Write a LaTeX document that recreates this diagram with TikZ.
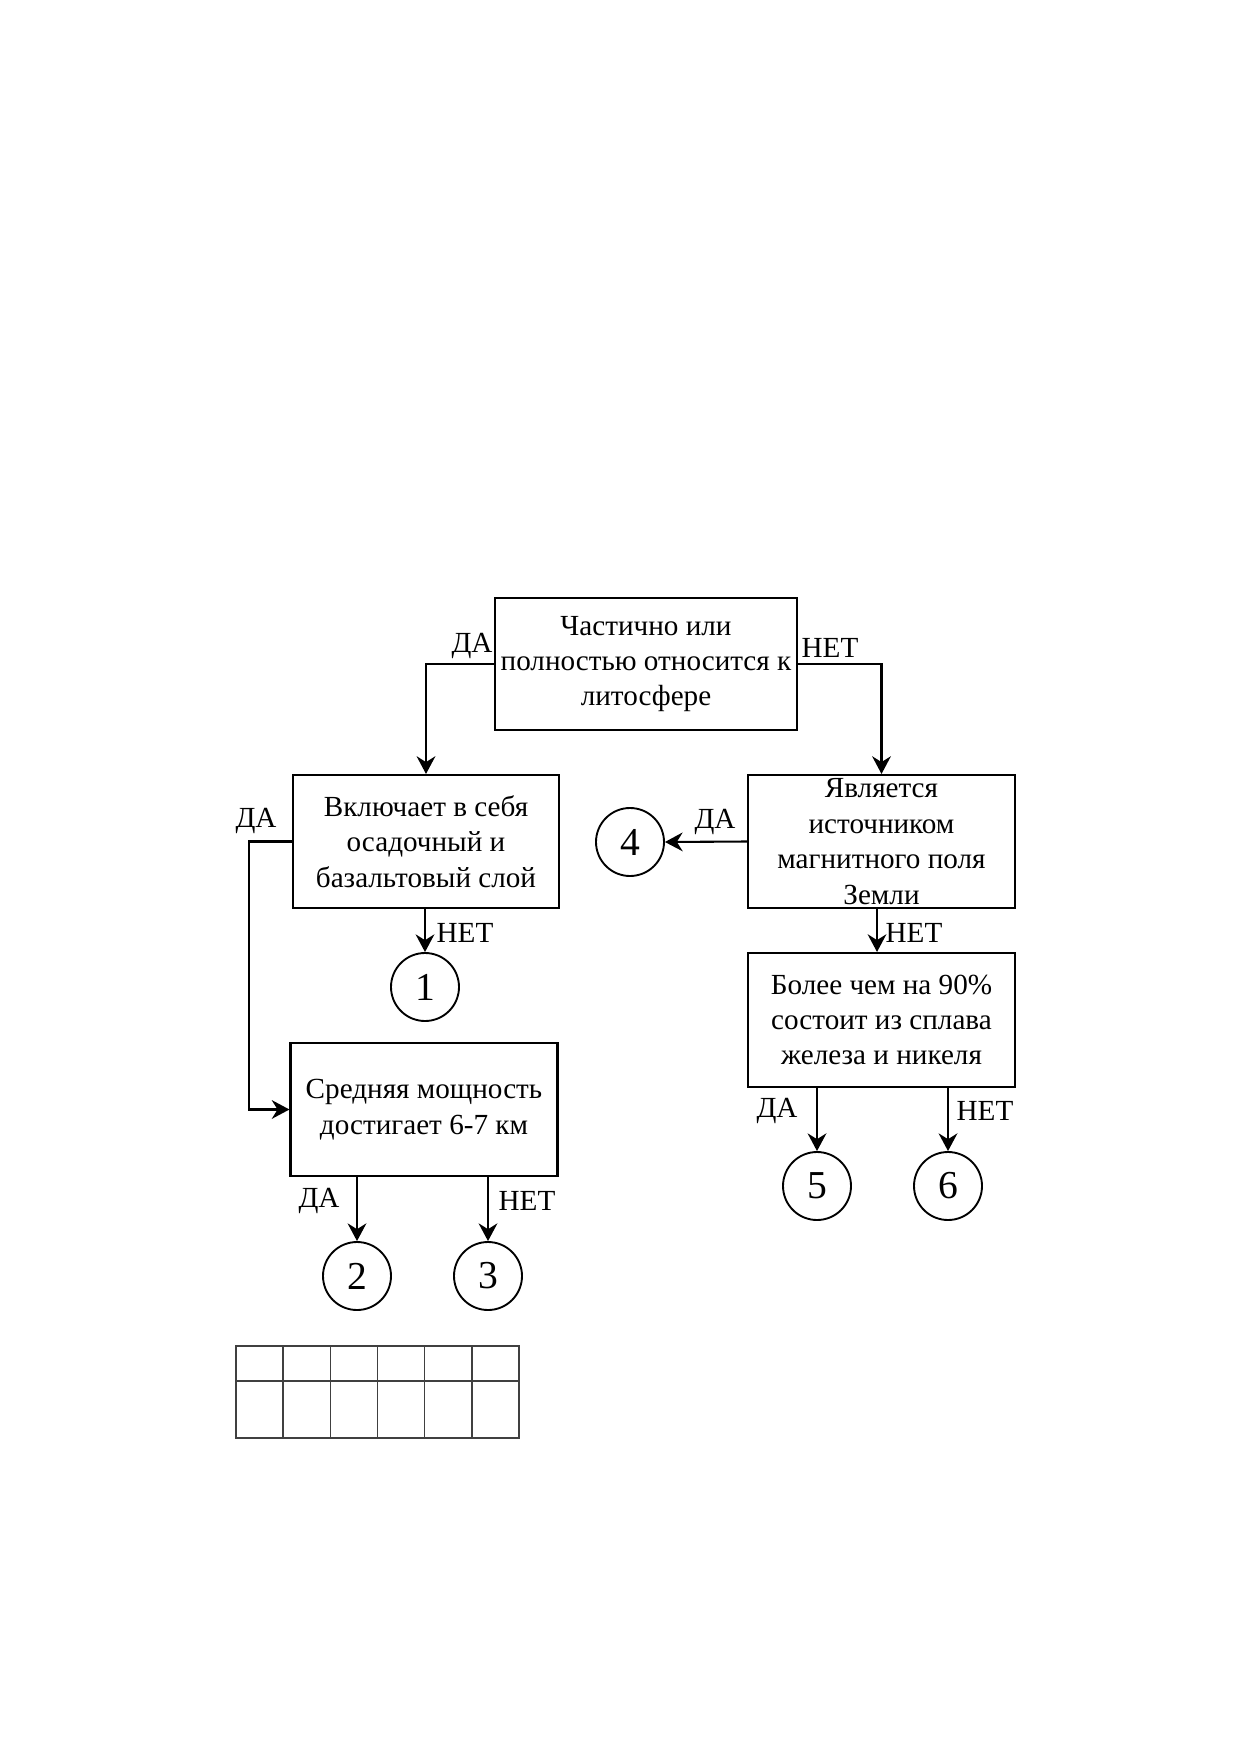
\documentclass[tikz,border=0pt]{standalone}
\usepackage{fontspec}
\setmainfont{Liberation Serif}
\usetikzlibrary{arrows.meta}
\def\px{0.48006pt}
\tikzset{
  box/.style={draw, line width=1pt, rectangle, inner sep=0pt, align=center,
    font=\fontsize{14}{17}\selectfont},
  circ/.style={draw, line width=0.9pt, circle, inner sep=0pt, minimum size=68*\px,
    font=\fontsize{19}{19}\selectfont},
  arr/.style={line width=1pt, -{Stealth[length=8.5pt, width=9pt, inset=2.8pt]}},
  lbl/.style={inner sep=0pt, font=\fontsize{14}{16}\selectfont},
  grid/.style={draw=black!75, line width=0.75pt}
}
\begin{document}
\begin{tikzpicture}[x=\px, y=-\px]
\useasboundingbox (0,0) rectangle (1240,1754);
\fill[white] (0,0) rectangle (1240,1754);

% boxes
\node[box, minimum width=302*\px, minimum height=132*\px] (A) at (646,664)
  {Частично или\\полностью относится к\\литосфере};
\node[box, minimum width=266*\px, minimum height=133*\px] (B) at (426,841.5)
  {Включает в себя\\осадочный и\\базальтовый слой};
\node[box, minimum width=267*\px, minimum height=133*\px] (C) at (424,1109.5)
  {Средняя мощность\\достигает 6-7 км};
\node[box, minimum width=267*\px, minimum height=133*\px] (D) at (881.5,841.5)
  {Является\\источником\\магнитного поля\\Земли};
\node[box, minimum width=267*\px, minimum height=134*\px] (E) at (881.5,1020)
  {Более чем на 90\%\\состоит из сплава\\железа и никеля};

% circles
\node[circ] (c1) at (425,987) {1};
\node[circ] (c2) at (357,1276) {2};
\node[circ] (c3) at (488,1276) {3};
\node[circ] (c4) at (630,842) {4};
\node[circ] (c5) at (817,1186) {5};
\node[circ] (c6) at (948,1186) {6};

% helper coordinates
\coordinate (bx) at (249,841.5);
\coordinate (dx) at (877,0);

% connectors
\draw[arr] (A.west) -| (B.north);
\draw[arr] (A.east) -| (D.north);
\draw[arr] (B.west) -- (bx) |- (C.west);
\draw[arr] (B.south -| c1) -- (c1.north);
\draw[arr] (C.south -| c2) -- (c2.north);
\draw[arr] (C.south -| c3) -- (c3.north);
\draw[arr] (D.west) -- (c4.east);
\draw[arr] (D.south -| dx) -- (E.north -| dx);
\draw[arr] (E.south -| c5) -- (c5.north);
\draw[arr] (E.south -| c6) -- (c6.north);

% labels
\node[lbl] (l1) at (472,646) {ДА};
\node[lbl] (l2) at (830,648) {НЕТ};
\node[lbl] (l3) at (256,821) {ДА};
\node[lbl] (l4) at (465,933) {НЕТ};
\node[lbl] (l5) at (715,822) {ДА};
\node[lbl] (l6) at (914,933) {НЕТ};
\node[lbl] (l7) at (319,1201) {ДА};
\node[lbl] (l8) at (527,1201) {НЕТ};
\node[lbl] (l9) at (777,1111) {ДА};
\node[lbl] (l10) at (985,1111) {НЕТ};

% answer table
\draw[grid] (236,1346) rectangle (519,1438);
\draw[grid] (236,1381) -- (519,1381);
\foreach \i in {1,...,5} {
  \draw[grid] ({236+\i*47.1667},1346) -- ({236+\i*47.1667},1438);
}
\end{tikzpicture}
\end{document}
